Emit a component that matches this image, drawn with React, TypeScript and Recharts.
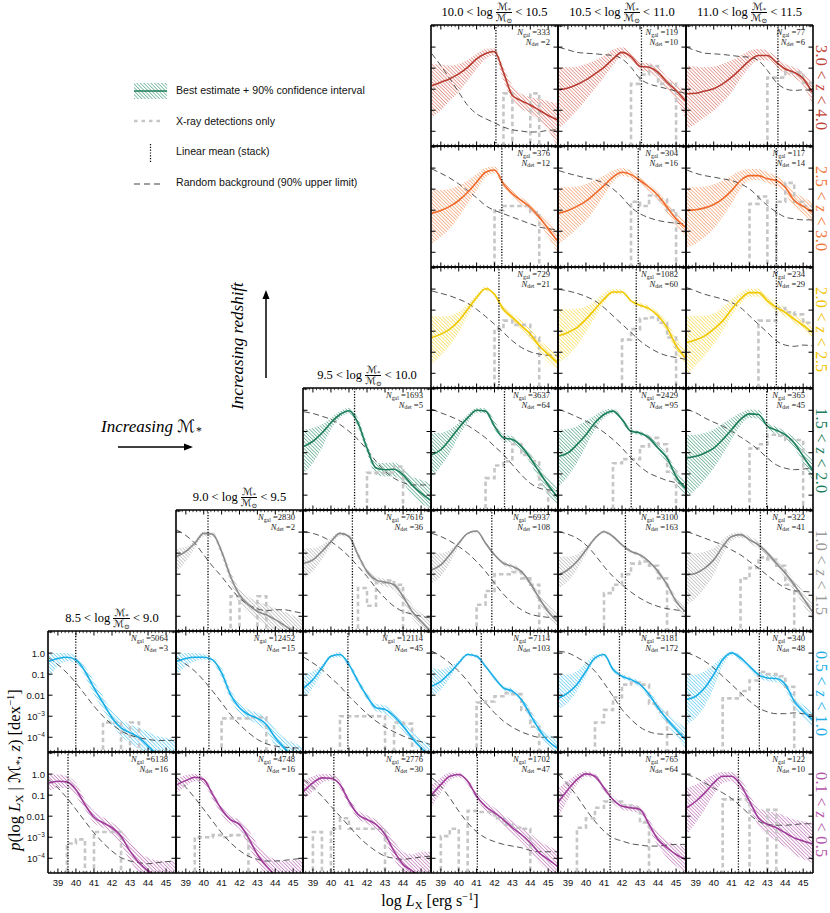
import React from "react";
import { ComposedChart, Area, Line, XAxis, YAxis, ReferenceLine } from "recharts";

const SERIF = '"Liberation Serif", "DejaVu Serif", "DejaVu Sans", serif';
const SANS = '"Liberation Sans", "DejaVu Sans", sans-serif';
const _ = null;

// sample grid in log L_X, also the histogram bin edges
const LX = [38.5, 39, 39.5, 40, 40.5, 41, 41.5, 42, 42.5, 43, 43.5, 44, 44.5, 45, 45.5];
const X_MAJOR = [39, 40, 41, 42, 43, 44, 45];
const Y_TICKS = [1e-4, 1e-3, 1e-2, 0.1, 1, 10];
const Y_TICK_BASE = ["10", "10", "0.01", "0.1", "1.0", ""];
const Y_TICK_EXP = ["\u22124", "\u22123", "", "", "", ""];
const MASS_BINS = [["8.5", "9.0"], ["9.0", "9.5"], ["9.5", "10.0"], ["10.0", "10.5"], ["10.5", "11.0"], ["11.0", "11.5"]];
const Z_BINS = [["3.0", "4.0"], ["2.5", "3.0"], ["2.0", "2.5"], ["1.5", "2.0"], ["1.0", "1.5"], ["0.5", "1.0"], ["0.1", "0.5"]];
const ROW_LINE = ["#b83c32", "#f06a2a", "#f0c800", "#1b7d5a", "#8a8a8a", "#19aee8", "#9e3b98"];
const ROW_HATCH = ["#d65a4a", "#f4823f", "#f5d21e", "#2a9069", "#a4a4a4", "#35bcee", "#b052a9"];
const ROW_TEXT = ["#c0443a", "#f07838", "#f0c400", "#1b7d5a", "#9a9a9a", "#22aee6", "#b456aa"];

// all values are log10 p(log Lx)
// 3.0 < z < 4.0
const r0c3Mid = [-1.83, -1.67, -1.5, -1.27, -0.96, -0.56, -0.3, -0.21, -1.2, -2.3, -2.55, -2.75, -3.0, -3.25, -3.45];
const r0c3Lo = [-3.33, -3.0, -2.54, -2.14, -1.59, -1.04, -0.56, -0.4, -1.6, -2.54, -2.93, -3.17, -3.5, -3.96, -4.67];
const r0c3Hi = [-0.8, -0.83, -0.88, -0.8, -0.61, -0.32, -0.09, -0.06, -0.96, -1.83, -2.22, -2.38, -2.46, -2.57, -2.69];
const r0c3Bg = [-0.32, -0.88, -1.5, -2.14, -2.77, -3.17, -3.4, -3.6, -3.8, -3.93, -3.99, -4.04, -4.02, -3.96, -3.93];
const r0c3Hist = [_, _, _, _, _, _, _, _, -2.2, _, _, -2.2, _, _];

const r0c4Mid = [-2.03, -1.94, -1.78, -1.56, -1.27, -0.96, -0.56, -0.25, -0.45, -0.91, -0.96, -1.2, -1.67, -2.06, -2.54];
const r0c4Lo = [-3.88, -3.48, -3.01, -2.5, -1.98, -1.43, -0.88, -0.45, -0.64, -1.11, -1.2, -1.5, -1.98, -2.54, -3.33];
const r0c4Hi = [-0.96, -0.96, -0.93, -0.8, -0.64, -0.4, -0.13, -0.01, -0.25, -0.72, -0.77, -0.96, -1.43, -1.75, -2.06];
const r0c4Bg = [-0.01, -0.13, -0.25, -0.29, -0.32, -0.36, -0.4, -0.56, -0.96, -1.5, -1.75, -1.87, -1.98, -2.09, -2.19];
const r0c4Hist = [_, _, _, _, _, _, _, _, -1.75, -1.3, -0.9, -1.75, -1.75, _];

const r0c5Mid = [-2.22, -2.19, -2.09, -1.98, -1.75, -1.43, -1.04, -0.64, -0.4, -0.4, -0.72, -1.04, -1.2, -1.5, -2.14];
const r0c5Lo = [-3.88, -3.64, -3.33, -3.01, -2.62, -2.14, -1.5, -0.96, -0.64, -0.64, -0.96, -1.24, -1.46, -1.83, -2.69];
const r0c5Hi = [-0.88, -0.93, -0.96, -0.93, -0.8, -0.64, -0.4, -0.17, -0.09, -0.17, -0.48, -0.8, -0.96, -1.2, -1.67];
const r0c5Bg = [-0.01, -0.17, -0.29, -0.32, -0.35, -0.4, -0.45, -0.48, -0.64, -1.11, -1.67, -1.98, -2.06, -2.03, -2.09];
const r0c5Hist = [_, _, _, _, _, _, _, _, _, -1.45, -1.45, -1.2, -1.2, -1.7];

// 2.5 < z < 3.0
const r1c3Mid = [-2.14, -2.01, -1.82, -1.54, -1.15, -0.67, -0.2, -0.09, -0.75, -1.22, -1.54, -1.86, -2.33, -2.88, -3.44];
const r1c3Lo = [-3.59, -3.28, -2.88, -2.33, -1.7, -1.07, -0.43, -0.25, -0.91, -1.41, -1.73, -2.09, -2.57, -3.28, -3.99];
const r1c3Hi = [-0.99, -1.04, -0.99, -0.83, -0.59, -0.28, 0.01, 0.07, -0.59, -1.07, -1.38, -1.67, -2.09, -2.49, -2.96];
const r1c3Bg = [-0.04, -0.25, -0.47, -0.75, -1.07, -1.41, -1.78, -2.01, -2.17, -2.33, -2.49, -2.65, -2.8, -2.88, -2.93];
const r1c3Hist = [_, _, _, _, _, _, _, -2.0, -1.8, -1.8, -1.8, -2.1, _, _];

const r1c4Mid = [-2.14, -2.01, -1.82, -1.57, -1.22, -0.83, -0.43, -0.2, -0.31, -0.59, -0.91, -1.3, -1.86, -2.41, -2.8];
const r1c4Lo = [-3.59, -3.28, -2.88, -2.49, -1.94, -1.3, -0.67, -0.36, -0.47, -0.75, -1.1, -1.54, -2.14, -2.73, -3.28];
const r1c4Hi = [-0.91, -0.91, -0.88, -0.75, -0.56, -0.36, -0.12, 0.01, -0.12, -0.43, -0.75, -1.15, -1.62, -2.09, -2.49];
const r1c4Bg = [-0.12, -0.25, -0.36, -0.47, -0.56, -0.72, -0.99, -1.38, -1.86, -2.17, -2.36, -2.49, -2.57, -2.62, -2.65];
const r1c4Hist = [_, _, _, _, _, _, _, _, -1.6, -1.8, -1.3, -1.5, -2.0, _];

const r1c5Mid = [-2.01, -1.98, -1.89, -1.73, -1.46, -1.07, -0.59, -0.36, -0.36, -0.51, -0.59, -0.91, -1.54, -1.82, -2.09];
const r1c5Lo = [-3.75, -3.59, -3.28, -2.88, -2.33, -1.7, -0.99, -0.59, -0.56, -0.72, -0.88, -1.22, -1.86, -2.17, -2.57];
const r1c5Hi = [-0.91, -0.91, -0.88, -0.78, -0.59, -0.36, -0.12, -0.04, -0.04, -0.2, -0.36, -0.67, -1.15, -1.38, -1.62];
const r1c5Bg = [-0.09, -0.25, -0.36, -0.43, -0.51, -0.59, -0.75, -0.99, -1.38, -1.78, -2.09, -2.33, -2.41, -2.46, -2.46];
const r1c5Hist = [_, _, _, _, _, _, _, -1.7, -1.35, _, -1.6, -0.7, -1.6, -1.8];

// 2.0 < z < 2.5
const r2c3Mid = [-2.3, -2.14, -1.9, -1.51, -0.96, -0.4, 0.02, -0.25, -0.96, -1.35, -1.75, -2.14, -2.69, -3.09, -3.48];
const r2c3Lo = [-3.56, -3.17, -2.69, -2.06, -1.27, -0.56, -0.09, -0.36, -1.11, -1.51, -1.93, -2.38, -2.93, -3.48, -3.8];
const r2c3Hi = [-1.27, -1.3, -1.27, -1.08, -0.72, -0.25, 0.12, -0.14, -0.77, -1.15, -1.51, -1.9, -2.41, -2.77, -3.09];
const r2c3Bg = [-0.09, -0.2, -0.32, -0.48, -0.67, -0.96, -1.3, -1.67, -2.06, -2.46, -2.77, -2.98, -3.09, -3.14, -3.14];
const r2c3Hist = [_, _, _, _, _, _, _, -1.9, -1.5, -1.7, -1.7, -2.3, _, _];

const r2c4Mid = [-2.22, -2.06, -1.83, -1.43, -0.96, -0.48, -0.14, -0.14, -0.56, -0.77, -0.93, -1.27, -1.83, -2.69, -3.25];
const r2c4Lo = [-3.48, -3.17, -2.69, -2.06, -1.35, -0.67, -0.25, -0.27, -0.67, -0.88, -1.04, -1.43, -2.06, -3.01, -3.56];
const r2c4Hi = [-0.96, -0.96, -0.93, -0.83, -0.56, -0.2, 0.02, -0.01, -0.45, -0.64, -0.8, -1.11, -1.59, -2.3, -2.85];
const r2c4Bg = [-0.01, -0.09, -0.2, -0.35, -0.56, -0.88, -1.27, -1.67, -2.06, -2.46, -2.77, -3.01, -3.17, -3.25, -3.33];
const r2c4Hist = [_, _, _, _, _, _, _, -2.4, -1.9, -1.4, -1.35, -1.6, -2.3, _];

const r2c5Mid = [-2.54, -2.41, -2.22, -1.9, -1.51, -0.96, -0.48, -0.17, -0.17, -0.56, -0.88, -1.11, -1.43, -1.72, -2.06];
const r2c5Lo = [-4.04, -3.64, -3.17, -2.62, -1.98, -1.27, -0.72, -0.36, -0.36, -0.77, -1.04, -1.3, -1.62, -1.9, -2.3];
const r2c5Hi = [-1.27, -1.27, -1.27, -1.15, -0.88, -0.48, -0.17, 0.02, 0.02, -0.32, -0.67, -0.88, -1.19, -1.43, -1.75];
const r2c5Bg = [0.07, -0.09, -0.25, -0.36, -0.48, -0.64, -0.88, -1.27, -1.67, -2.06, -2.46, -2.66, -2.72, -2.66, -2.69];
const r2c5Hist = [_, _, _, _, _, _, _, _, -1.5, -1.5, -0.9, -1.1, -1.2, -1.6];

// 1.5 < z < 2.0
const r3c2Mid = [-1.7, -1.46, -1.07, -0.59, -0.2, -0.02, -0.59, -1.78, -2.72, -2.8, -2.78, -3.04, -3.52, -3.91, -4.23];
const r3c2Lo = [-2.96, -2.49, -1.78, -0.91, -0.36, -0.15, -0.83, -2.01, -3.04, -3.12, -3.12, -3.44, -3.99, -4.38, -4.62];
const r3c2Hi = [-0.91, -0.83, -0.67, -0.36, -0.04, 0.12, -0.36, -1.54, -2.49, -2.49, -2.46, -2.73, -3.12, -3.28, -3.44];
const r3c2Bg = [-0.07, -0.15, -0.28, -0.43, -0.67, -0.99, -1.38, -1.86, -2.41, -2.88, -3.2, -3.41, -3.52, -3.52, -3.52];
const r3c2Hist = [_, _, _, _, _, _, _, -2.95, -2.95, -2.95, -2.65, _, _, _];

const r3c3Mid = [-2.09, -1.86, -1.38, -0.83, -0.36, 0.0, -0.04, -0.75, -1.3, -1.38, -1.7, -2.25, -2.9, -3.52, -4.07];
const r3c3Lo = [-3.12, -2.65, -2.01, -1.22, -0.59, -0.12, -0.15, -0.91, -1.46, -1.54, -1.89, -2.49, -3.28, -3.99, -4.46];
const r3c3Hi = [-1.07, -1.07, -0.91, -0.59, -0.2, 0.12, 0.09, -0.48, -1.15, -1.22, -1.54, -2.04, -2.65, -3.2, -3.59];
const r3c3Bg = [0.04, -0.12, -0.28, -0.47, -0.72, -0.99, -1.3, -1.7, -2.09, -2.57, -3.04, -3.44, -3.67, -3.75, -3.78];
const r3c3Hist = [_, _, _, _, _, _, -3.2, -2.6, -2.4, -1.6, -2.1, -2.4, -3.5, _];

const r3c4Mid = [-2.17, -2.01, -1.62, -1.15, -0.59, -0.2, -0.04, -0.43, -0.99, -1.07, -1.3, -1.78, -2.25, -3.12, -3.67];
const r3c4Lo = [-3.59, -3.12, -2.49, -1.7, -0.91, -0.36, -0.15, -0.56, -1.1, -1.18, -1.41, -1.94, -2.49, -3.44, -4.07];
const r3c4Hi = [-0.91, -0.88, -0.75, -0.51, -0.23, 0.01, 0.07, -0.31, -0.88, -0.99, -1.19, -1.62, -2.09, -2.8, -3.36];
const r3c4Bg = [0.04, -0.12, -0.31, -0.51, -0.75, -1.04, -1.38, -1.78, -2.25, -2.65, -2.96, -3.15, -3.31, -3.41, -3.47];
const r3c4Hist = [_, _, _, _, _, _, -2.5, -2.3, -2.3, -1.7, -1.3, -1.6, -2.9, _];

const r3c5Mid = [-2.25, -2.17, -2.01, -1.78, -1.38, -0.91, -0.43, -0.17, -0.2, -0.75, -0.94, -1.15, -1.54, -2.17, -2.8];
const r3c5Lo = [-4.07, -3.75, -3.28, -2.73, -2.09, -1.38, -0.72, -0.36, -0.4, -0.91, -1.12, -1.35, -1.78, -2.49, -3.28];
const r3c5Hi = [-1.15, -1.15, -1.07, -0.91, -0.62, -0.36, -0.12, 0.04, 0.01, -0.59, -0.78, -0.99, -1.3, -1.78, -2.25];
const r3c5Bg = [0.04, -0.12, -0.36, -0.56, -0.75, -0.99, -1.26, -1.54, -1.86, -2.25, -2.57, -2.73, -2.8, -2.77, -2.73];
const r3c5Hist = [_, _, _, _, _, _, _, -1.8, -1.6, -1.15, -1.2, -1.4, -1.4, _];

// 1.0 < z < 1.5
const r4c1Mid = [-1.16, -0.92, -0.53, -0.06, -0.1, -0.92, -2.11, -2.98, -3.45, -3.77, -3.93, -4.16, -4.43, -4.7, -4.95];
const r4c1Lo = [-1.87, -1.4, -0.77, -0.21, -0.26, -1.16, -2.43, -3.37, -3.85, -4.16, -4.48, -4.8, -5.0, -5.2, -5.3];
const r4c1Hi = [-0.77, -0.69, -0.42, 0.03, 0.0, -0.77, -1.87, -2.66, -3.06, -3.29, -3.45, -3.61, -3.77, -3.96, -4.16];
const r4c1Bg = [0.1, -0.16, -0.53, -1.08, -1.63, -2.11, -2.66, -3.14, -3.45, -3.64, -3.74, -3.69, -3.69, -3.77, -3.85];
const r4c1Hist = [_, _, _, _, _, _, -3.05, _, _, -3.05, _, _, _, _];

const r4c2Mid = [-1.48, -1.32, -0.92, -0.45, -0.06, -0.21, -1.08, -1.87, -2.27, -2.38, -2.5, -3.06, -3.77, -4.24, -4.7];
const r4c2Lo = [-2.19, -1.87, -1.32, -0.64, -0.17, -0.32, -1.24, -2.03, -2.43, -2.58, -2.74, -3.32, -4.08, -4.55, -4.95];
const r4c2Hi = [-0.77, -0.77, -0.61, -0.29, 0.02, -0.1, -0.92, -1.71, -2.11, -2.22, -2.35, -2.85, -3.45, -3.85, -4.16];
const r4c2Bg = [0.02, -0.06, -0.21, -0.45, -0.77, -1.16, -1.63, -2.11, -2.66, -3.14, -3.53, -3.77, -3.9, -4.0, -4.08];
const r4c2Hist = [_, _, _, _, _, _, -2.66, -3.5, -2.4, -2.3, -2.5, _, _, _];

const r4c3Mid = [-1.79, -1.56, -1.08, -0.53, -0.06, 0.05, -0.53, -1.08, -1.48, -1.63, -1.87, -2.43, -3.14, -3.77, -4.24];
const r4c3Lo = [-2.43, -2.11, -1.48, -0.69, -0.13, -0.06, -0.61, -1.19, -1.59, -1.76, -2.0, -2.58, -3.37, -4.05, -4.55];
const r4c3Hi = [-1.0, -1.0, -0.85, -0.45, -0.01, 0.1, -0.45, -1.0, -1.37, -1.52, -1.75, -2.27, -2.9, -3.45, -3.85];
const r4c3Bg = [-0.06, -0.21, -0.42, -0.69, -1.0, -1.4, -1.87, -2.43, -2.95, -3.37, -3.69, -3.9, -4.0, -4.05, -4.08];
const r4c3Hist = [_, _, _, _, _, -3.45, -2.8, -2.0, -2.0, -1.9, -2.2, -2.5, _, _];

const r4c4Mid = [-2.03, -1.79, -1.4, -0.85, -0.29, 0.02, -0.21, -0.61, -0.92, -1.08, -1.4, -1.87, -2.5, -3.29, -3.77];
const r4c4Lo = [-2.66, -2.35, -1.79, -1.05, -0.37, -0.06, -0.29, -0.69, -1.0, -1.18, -1.52, -2.03, -2.66, -3.53, -4.08];
const r4c4Hi = [-1.16, -1.16, -1.05, -0.69, -0.21, 0.1, -0.13, -0.53, -0.85, -1.0, -1.29, -1.75, -2.35, -3.06, -3.45];
const r4c4Bg = [0.02, -0.1, -0.29, -0.61, -1.08, -1.63, -2.11, -2.5, -2.85, -3.14, -3.37, -3.53, -3.64, -3.7, -3.77];
const r4c4Hist = [_, _, _, _, _, -2.9, -2.5, -2.0, -1.5, -1.4, -1.6, -2.2, _, _];

const r4c5Mid = [-2.03, -1.95, -1.71, -1.32, -0.69, -0.21, -0.12, -0.37, -0.61, -1.0, -1.48, -1.95, -2.5, -3.14, -3.77];
const r4c5Lo = [-3.45, -3.14, -2.66, -2.03, -1.08, -0.42, -0.26, -0.53, -0.8, -1.16, -1.63, -2.19, -2.79, -3.45, -4.16];
const r4c5Hi = [-1.0, -1.0, -0.92, -0.74, -0.37, -0.06, -0.01, -0.21, -0.45, -0.85, -1.32, -1.75, -2.27, -2.82, -3.29];
const r4c5Bg = [0.02, -0.13, -0.29, -0.45, -0.61, -0.85, -1.08, -1.4, -1.71, -2.06, -2.38, -2.66, -2.79, -2.82, -2.85];
const r4c5Hist = [_, _, _, _, _, _, -2.2, -1.7, -1.2, -1.3, -1.6, -2.5, _, _];

// 0.5 < z < 1.0
const r5c0Mid = [-0.39, -0.26, -0.2, -0.32, -0.86, -1.65, -2.36, -3.07, -3.55, -3.78, -4.02, -4.42, -4.81, -5.1, -5.4];
const r5c0Lo = [-1.18, -0.63, -0.39, -0.47, -1.1, -1.97, -2.68, -3.39, -3.94, -4.26, -4.57, -4.9, -5.1, -5.3, -5.5];
const r5c0Hi = [0.0, 0.0, 0.0, -0.15, -0.63, -1.34, -2.05, -2.76, -3.15, -3.39, -3.55, -3.74, -3.94, -4.02, -4.1];
const r5c0Bg = [-0.23, -0.55, -0.94, -1.42, -1.97, -2.52, -3.0, -3.39, -3.7, -3.9, -4.02, -4.1, -4.15, -4.15, -4.15];
const r5c0Hist = [_, _, _, _, _, _, -3.3, -3.3, _, -3.3, _, _, _, _];

const r5c1Mid = [-0.39, -0.26, -0.2, -0.2, -0.32, -0.94, -1.97, -2.6, -2.92, -3.1, -3.39, -4.02, -4.5, -4.95, -5.4];
const r5c1Lo = [-1.02, -0.63, -0.39, -0.32, -0.47, -1.18, -2.2, -2.84, -3.15, -3.39, -3.7, -4.42, -4.9, -5.3, -5.6];
const r5c1Hi = [-0.04, 0.0, 0.0, -0.04, -0.2, -0.7, -1.73, -2.36, -2.68, -2.84, -3.07, -3.62, -4.02, -4.26, -4.42];
const r5c1Bg = [-0.23, -0.52, -0.86, -1.3, -1.81, -2.36, -2.92, -3.39, -3.78, -4.1, -4.31, -4.42, -4.47, -4.5, -4.52];
const r5c1Hist = [_, _, _, _, _, -3.1, -3.1, -3.1, -3.05, -3.05, _, _, _, _];

const r5c2Mid = [-1.65, -1.26, -0.7, -0.15, -0.07, -0.55, -1.34, -2.05, -2.6, -2.68, -2.99, -3.47, -4.02, -4.5, -4.9];
const r5c2Lo = [-2.13, -1.65, -0.94, -0.26, -0.2, -0.7, -1.49, -2.2, -2.76, -2.88, -3.23, -3.7, -4.26, -4.65, -5.0];
const r5c2Hi = [-1.02, -0.86, -0.55, -0.07, 0.05, -0.39, -1.18, -1.89, -2.41, -2.49, -2.76, -3.23, -3.7, -4.1, -4.34];
const r5c2Bg = [-0.2, -0.47, -0.78, -1.18, -1.57, -2.05, -2.47, -2.88, -3.23, -3.52, -3.74, -3.94, -4.1, -4.21, -4.34];
const r5c2Hist = [_, _, _, _, -3.0, -3.0, -3.0, -3.0, -3.0, _, -3.3, -3.35, _, _];

const r5c3Mid = [-1.57, -1.34, -0.94, -0.47, -0.07, -0.15, -0.63, -1.18, -1.65, -1.81, -2.2, -2.92, -3.63, -4.18, -4.5];
const r5c3Lo = [-2.05, -1.73, -1.18, -0.58, -0.15, -0.23, -0.7, -1.26, -1.76, -1.94, -2.36, -3.15, -3.86, -4.42, -4.8];
const r5c3Hi = [-0.7, -0.78, -0.63, -0.36, 0.01, -0.07, -0.55, -1.1, -1.57, -1.68, -2.05, -2.68, -3.39, -3.86, -4.02];
const r5c3Bg = [0.09, -0.15, -0.47, -0.86, -1.34, -1.89, -2.36, -2.84, -3.23, -3.52, -3.74, -3.9, -4.0, -4.0, -3.96];
const r5c3Hist = [_, _, _, _, _, -2.35, -2.3, -2.05, -1.9, -1.95, -2.7, -3.5, _, _];

const r5c4Mid = [-2.13, -1.89, -1.49, -0.86, -0.23, -0.07, -0.78, -1.1, -1.26, -1.49, -1.97, -2.6, -3.15, -3.63, -4.1];
const r5c4Lo = [-2.68, -2.36, -1.81, -1.1, -0.36, -0.2, -0.86, -1.21, -1.37, -1.62, -2.13, -2.79, -3.39, -3.94, -4.5];
const r5c4Hi = [-1.02, -1.02, -0.86, -0.47, -0.07, 0.01, -0.67, -0.99, -1.15, -1.37, -1.81, -2.36, -2.84, -3.23, -3.55];
const r5c4Bg = [0.09, 0.01, -0.2, -0.47, -0.86, -1.42, -2.05, -2.68, -3.15, -3.52, -3.74, -3.84, -3.86, -3.86, -3.84];
const r5c4Hist = [_, _, _, _, -3.3, -2.7, -2.1, -1.5, -1.4, -1.5, -2.4, -2.8, _, _];

const r5c5Mid = [-2.2, -2.05, -1.65, -1.02, -0.31, 0.01, -0.23, -0.63, -1.02, -1.18, -1.21, -1.49, -2.28, -2.76, -3.15];
const r5c5Lo = [-3.39, -3.07, -2.52, -1.65, -0.63, -0.1, -0.36, -0.74, -1.18, -1.34, -1.39, -1.73, -2.6, -3.07, -3.55];
const r5c5Hi = [-1.02, -1.02, -0.86, -0.55, -0.15, 0.09, -0.1, -0.52, -0.86, -1.02, -1.05, -1.3, -2.05, -2.47, -2.76];
const r5c5Bg = [0.01, -0.15, -0.39, -0.7, -1.1, -1.49, -1.89, -2.28, -2.6, -2.79, -2.88, -2.88, -2.84, -2.88, -2.94];
const r5c5Hist = [_, _, _, _, -2.15, -2.15, -1.8, -1.3, -0.9, -1.0, -1.1, -1.6, _, _];

// 0.1 < z < 0.5
const r6c0Mid = [-0.42, -0.34, -0.37, -0.74, -1.45, -2.05, -2.31, -2.55, -2.95, -3.66, -4.21, -4.6, -4.9, -5.2, -5.5];
const r6c0Lo = [-0.81, -0.66, -0.66, -1.05, -1.68, -2.31, -2.55, -2.84, -3.34, -4.13, -4.68, -5.0, -5.3, -5.6, -5.9];
const r6c0Hi = [-0.02, -0.02, -0.1, -0.42, -1.21, -1.76, -2.05, -2.31, -2.63, -3.18, -3.69, -3.97, -4.1, -4.13, -4.13];
const r6c0Bg = [-0.26, -0.66, -1.13, -1.68, -2.24, -2.79, -3.26, -3.66, -3.97, -4.13, -4.21, -4.26, -4.21, -4.16, -4.13];
const r6c0Hist = [_, _, -3.3, -3.1, _, -2.75, -2.75, -2.75, _, _, _, _, _, _];

const r6c1Mid = [-0.5, -0.31, -0.15, -0.26, -0.97, -1.68, -2.16, -2.39, -3.03, -3.82, -4.37, -4.8, -5.1, -5.4, -5.7];
const r6c1Lo = [-0.89, -0.58, -0.34, -0.47, -1.21, -1.92, -2.36, -2.63, -3.42, -4.21, -4.8, -5.2, -5.5, -5.8, -6.0];
const r6c1Hi = [-0.18, -0.05, 0.0, -0.1, -0.81, -1.53, -2.0, -2.16, -2.63, -3.34, -3.82, -4.05, -4.13, -4.1, -4.05];
const r6c1Bg = [-0.18, -0.63, -1.13, -1.68, -2.24, -2.79, -3.26, -3.63, -3.9, -4.05, -4.13, -4.13, -4.1, -4.05, -4.0];
const r6c1Hist = [_, _, -3.0, -3.0, -2.9, -3.0, -2.9, -2.9, _, _, _, _, _, _];

const r6c2Mid = [-0.81, -0.42, -0.18, -0.2, -0.5, -1.29, -1.92, -2.16, -2.39, -2.87, -3.66, -4.29, -4.6, -4.9, -5.2];
const r6c2Lo = [-1.21, -0.81, -0.42, -0.31, -0.69, -1.48, -2.11, -2.36, -2.63, -3.18, -4.05, -4.68, -5.0, -5.3, -5.6];
const r6c2Hi = [-0.34, -0.1, 0.0, 0.0, -0.31, -1.13, -1.73, -1.95, -2.16, -2.55, -3.18, -3.69, -3.82, -3.69, -3.69];
const r6c2Bg = [-0.26, -0.63, -1.05, -1.53, -2.0, -2.47, -2.95, -3.34, -3.66, -3.9, -4.0, -4.05, -4.0, -3.94, -3.9];
const r6c2Hist = [_, -2.75, _, -2.6, -2.1, -2.6, -2.6, -2.6, -2.6, _, _, _, _, _];

const r6c3Mid = [-0.97, -0.5, -0.1, -0.02, -0.34, -1.05, -1.53, -1.84, -2.16, -2.55, -2.87, -3.26, -3.74, -4.05, -4.37];
const r6c3Lo = [-1.53, -0.89, -0.31, -0.15, -0.5, -1.21, -1.73, -2.08, -2.43, -2.84, -3.23, -3.69, -4.21, -4.6, -4.85];
const r6c3Hi = [-0.5, -0.18, 0.07, 0.07, -0.23, -0.89, -1.32, -1.6, -1.92, -2.24, -2.52, -2.84, -3.18, -3.42, -3.63];
const r6c3Bg = [-0.18, -0.58, -1.13, -1.76, -2.31, -2.74, -3.03, -3.21, -3.34, -3.42, -3.5, -3.63, -3.69, -3.69, -3.69];
const r6c3Hist = [_, -2.95, -2.6, _, -1.75, -1.8, -1.8, -2.1, -2.4, -2.55, -2.6, _, _, _];

const r6c4Mid = [-1.29, -0.74, -0.26, 0.01, -0.1, -0.66, -1.21, -1.53, -1.6, -1.68, -2.39, -3.11, -3.5, -3.82, -4.05];
const r6c4Lo = [-2.0, -1.21, -0.5, -0.12, -0.26, -0.81, -1.37, -1.68, -1.76, -1.88, -2.63, -3.42, -3.97, -4.37, -4.68];
const r6c4Hi = [-0.66, -0.31, -0.02, 0.13, 0.01, -0.53, -1.05, -1.37, -1.45, -1.53, -2.16, -2.79, -3.18, -3.34, -3.42];
const r6c4Bg = [-0.02, -0.5, -1.05, -1.68, -2.24, -2.71, -3.03, -3.18, -3.31, -3.37, -3.42, -3.42, -3.37, -3.34, -3.34];
const r6c4Hist = [_, _, -2.55, -2.1, -1.6, -1.3, -1.3, -1.5, -1.6, -2.3, _, _, _, _];

const r6c5Mid = [-1.6, -1.29, -0.89, -0.42, -0.1, -0.1, -0.5, -1.29, -2.08, -2.39, -2.55, -2.79, -3.03, -3.18, -3.31];
const r6c5Lo = [-2.87, -2.31, -1.68, -0.97, -0.42, -0.34, -0.81, -1.6, -2.47, -2.9, -3.18, -3.47, -3.82, -4.05, -4.21];
const r6c5Hi = [-0.66, -0.5, -0.26, -0.02, 0.1, 0.1, -0.18, -0.97, -1.6, -1.76, -1.84, -2.0, -2.16, -2.24, -2.31];
const r6c5Bg = [-0.02, -0.18, -0.42, -0.66, -0.89, -1.16, -1.53, -1.92, -2.24, -2.39, -2.43, -2.43, -2.4, -2.36, -2.36];
const r6c5Hist = [_, _, _, _, -1.2, -1.2, -1.2, _, _, -1.7, _, _, _, _];

const PANELS = [
  { row: 0, col: 3, nGal: 333, nDet: 2, mean: 42.08, mid: r0c3Mid, lo: r0c3Lo, hi: r0c3Hi, bg: r0c3Bg, hist: r0c3Hist },
  { row: 0, col: 4, nGal: 119, nDet: 10, mean: 43.08, mid: r0c4Mid, lo: r0c4Lo, hi: r0c4Hi, bg: r0c4Bg, hist: r0c4Hist },
  { row: 0, col: 5, nGal: 77, nDet: 6, mean: 43.59, mid: r0c5Mid, lo: r0c5Lo, hi: r0c5Hi, bg: r0c5Bg, hist: r0c5Hist },
  { row: 1, col: 3, nGal: 376, nDet: 12, mean: 42.41, mid: r1c3Mid, lo: r1c3Lo, hi: r1c3Hi, bg: r1c3Bg, hist: r1c3Hist },
  { row: 1, col: 4, nGal: 304, nDet: 16, mean: 42.9, mid: r1c4Mid, lo: r1c4Lo, hi: r1c4Hi, bg: r1c4Bg, hist: r1c4Hist },
  { row: 1, col: 5, nGal: 117, nDet: 14, mean: 43.5, mid: r1c5Mid, lo: r1c5Lo, hi: r1c5Hi, bg: r1c5Bg, hist: r1c5Hist },
  { row: 2, col: 3, nGal: 729, nDet: 21, mean: 42.25, mid: r2c3Mid, lo: r2c3Lo, hi: r2c3Hi, bg: r2c3Bg, hist: r2c3Hist },
  { row: 2, col: 4, nGal: 1082, nDet: 60, mean: 42.79, mid: r2c4Mid, lo: r2c4Lo, hi: r2c4Hi, bg: r2c4Bg, hist: r2c4Hist },
  { row: 2, col: 5, nGal: 234, nDet: 29, mean: 43.5, mid: r2c5Mid, lo: r2c5Lo, hi: r2c5Hi, bg: r2c5Bg, hist: r2c5Hist },
  { row: 3, col: 2, nGal: 1693, nDet: 5, mean: 41.31, mid: r3c2Mid, lo: r3c2Lo, hi: r3c2Hi, bg: r3c2Bg, hist: r3c2Hist },
  { row: 3, col: 3, nGal: 3637, nDet: 64, mean: 42.56, mid: r3c3Mid, lo: r3c3Lo, hi: r3c3Hi, bg: r3c3Bg, hist: r3c3Hist },
  { row: 3, col: 4, nGal: 2429, nDet: 95, mean: 42.51, mid: r3c4Mid, lo: r3c4Lo, hi: r3c4Hi, bg: r3c4Bg, hist: r3c4Hist },
  { row: 3, col: 5, nGal: 365, nDet: 45, mean: 42.96, mid: r3c5Mid, lo: r3c5Lo, hi: r3c5Hi, bg: r3c5Bg, hist: r3c5Hist },
  { row: 4, col: 1, nGal: 2830, nDet: 2, mean: 40.24, mid: r4c1Mid, lo: r4c1Lo, hi: r4c1Hi, bg: r4c1Bg, hist: r4c1Hist },
  { row: 4, col: 2, nGal: 7616, nDet: 36, mean: 41.19, mid: r4c2Mid, lo: r4c2Lo, hi: r4c2Hi, bg: r4c2Bg, hist: r4c2Hist },
  { row: 4, col: 3, nGal: 6937, nDet: 108, mean: 41.85, mid: r4c3Mid, lo: r4c3Lo, hi: r4c3Hi, bg: r4c3Bg, hist: r4c3Hist },
  { row: 4, col: 4, nGal: 3100, nDet: 163, mean: 42.19, mid: r4c4Mid, lo: r4c4Lo, hi: r4c4Hi, bg: r4c4Bg, hist: r4c4Hist },
  { row: 4, col: 5, nGal: 322, nDet: 41, mean: 42.61, mid: r4c5Mid, lo: r4c5Lo, hi: r4c5Hi, bg: r4c5Bg, hist: r4c5Hist },
  { row: 5, col: 0, nGal: 5064, nDet: 3, mean: 39.99, mid: r5c0Mid, lo: r5c0Lo, hi: r5c0Hi, bg: r5c0Bg, hist: r5c0Hist },
  { row: 5, col: 1, nGal: 12452, nDet: 15, mean: 40.29, mid: r5c1Mid, lo: r5c1Lo, hi: r5c1Hi, bg: r5c1Bg, hist: r5c1Hist },
  { row: 5, col: 2, nGal: 12114, nDet: 45, mean: 40.94, mid: r5c2Mid, lo: r5c2Lo, hi: r5c2Hi, bg: r5c2Bg, hist: r5c2Hist },
  { row: 5, col: 3, nGal: 7114, nDet: 103, mean: 41.26, mid: r5c3Mid, lo: r5c3Lo, hi: r5c3Hi, bg: r5c3Bg, hist: r5c3Hist },
  { row: 5, col: 4, nGal: 3181, nDet: 172, mean: 41.86, mid: r5c4Mid, lo: r5c4Lo, hi: r5c4Hi, bg: r5c4Bg, hist: r5c4Hist },
  { row: 5, col: 5, nGal: 340, nDet: 48, mean: 42.55, mid: r5c5Mid, lo: r5c5Lo, hi: r5c5Hi, bg: r5c5Bg, hist: r5c5Hist },
  { row: 6, col: 0, nGal: 6138, nDet: 16, mean: 39.56, mid: r6c0Mid, lo: r6c0Lo, hi: r6c0Hi, bg: r6c0Bg, hist: r6c0Hist },
  { row: 6, col: 1, nGal: 4748, nDet: 16, mean: 39.77, mid: r6c1Mid, lo: r6c1Lo, hi: r6c1Hi, bg: r6c1Bg, hist: r6c1Hist },
  { row: 6, col: 2, nGal: 2776, nDet: 30, mean: 40.16, mid: r6c2Mid, lo: r6c2Lo, hi: r6c2Hi, bg: r6c2Bg, hist: r6c2Hist },
  { row: 6, col: 3, nGal: 1702, nDet: 47, mean: 41.04, mid: r6c3Mid, lo: r6c3Lo, hi: r6c3Hi, bg: r6c3Bg, hist: r6c3Hist },
  { row: 6, col: 4, nGal: 765, nDet: 64, mean: 41.34, mid: r6c4Mid, lo: r6c4Lo, hi: r6c4Hi, bg: r6c4Bg, hist: r6c4Hist },
  { row: 6, col: 5, nGal: 122, nDet: 10, mean: 41.38, mid: r6c5Mid, lo: r6c5Lo, hi: r6c5Hi, bg: r6c5Bg, hist: r6c5Hist },
];

// layout of the grid
const COL_EDGES = [48, 176, 303, 431, 558, 686, 813];
const ROW_EDGES = [25, 146, 267, 388, 510, 631, 752, 873];
const X_DOMAIN = [38.45, 45.55];
const Y_DOMAIN = [Math.pow(10, -4.7), Math.pow(10, 1.05)];
const X_TICKS: number[] = [];
for (let k = 193; k <= 227; k++) X_TICKS.push(Math.round(k * 2) / 10);

const AXIS_LINE = { stroke: "#000", strokeWidth: 1.6 };
const AX = 1; // thickness reserved by each of the 4 axes

const toRows = (p: any) =>
  LX.map((x, i) => {
    const h = p.hist[Math.min(i, p.hist.length - 1)];
    return {
      x,
      mid: Math.pow(10, p.mid[i]),
      band: [Math.pow(10, p.lo[i]), Math.pow(10, p.hi[i])],
      bg: Math.pow(10, p.bg[i]),
      hist: Math.pow(10, h === null ? -12 : h),
    };
  });

const isMajor = (v: number) => X_MAJOR.some((m) => Math.abs(v - m) < 1e-6);

const XTick = (props: any) => {
  const { x, y, payload, side, showLabel } = props;
  const v = payload.value;
  const major = isMajor(v);
  const len = major ? 4.5 : 2.2;
  const dir = side === "bottom" ? -1 : 1;
  return (
    <g>
      <line x1={x} y1={y} x2={x} y2={y + dir * len} stroke="#000" strokeWidth={major ? 1 : 0.7} />
      {showLabel && major && (
        <text x={x} y={y + 12.5} textAnchor="middle" fontFamily={SANS} fontSize={9.5} fill="#111">
          {Math.round(v)}
        </text>
      )}
    </g>
  );
};

const YTick = (props: any) => {
  const { x, y, payload, side, showLabel } = props;
  const v = payload.value;
  const idx = Y_TICKS.findIndex((t) => Math.abs(Math.log10(t) - Math.log10(v)) < 1e-6);
  const dir = side === "left" ? 1 : -1;
  return (
    <g>
      <line x1={x} y1={y} x2={x + dir * 4.5} y2={y} stroke="#000" strokeWidth={1} />
      {showLabel && idx >= 0 && Y_TICK_BASE[idx] !== "" && (
        <text x={x - 3} y={y + 3.5} textAnchor="end" fontFamily={SANS} fontSize={9.5} fill="#111">
          <tspan>{Y_TICK_BASE[idx]}</tspan>
          {Y_TICK_EXP[idx] !== "" && (
            <tspan dy={-4} fontSize={6.5}>
              {Y_TICK_EXP[idx]}
            </tspan>
          )}
        </text>
      )}
    </g>
  );
};

const Sub = ({ children }: any) => (
  <span style={{ fontSize: "0.68em", position: "relative", top: "0.3em", lineHeight: 0 }}>{children}</span>
);

const Panel = ({ p }: any) => {
  const W = COL_EDGES[p.col + 1] - COL_EDGES[p.col];
  const H = ROW_EDGES[p.row + 1] - ROW_EDGES[p.row];
  const id = `hatch-${p.row}-${p.col}`;
  const data = toRows(p);
  const bottomLabels = p.row === 6;
  const leftLabels = p.col === 0;
  return (
    <div style={{ position: "absolute", left: COL_EDGES[p.col] - AX, top: ROW_EDGES[p.row] - AX, width: W + 2 * AX, height: H + 2 * AX }}>
      <ComposedChart width={W + 2 * AX} height={H + 2 * AX} data={data} margin={{ top: 0, right: 0, bottom: 0, left: 0 }}>
        <defs>
          <pattern id={id} patternUnits="userSpaceOnUse" width={2.5} height={2.5} patternTransform="rotate(-45)">
            <line x1={0} y1={0} x2={0} y2={2.5} stroke={ROW_HATCH[p.row]} strokeWidth={1.1} />
          </pattern>
        </defs>
        <XAxis
          xAxisId="b"
          dataKey="x"
          type="number"
          domain={X_DOMAIN}
          allowDataOverflow
          ticks={X_TICKS}
          interval={0}
          height={AX}
          tickSize={0}
          tickMargin={0}
          tickLine={false}
          axisLine={AXIS_LINE}
          tick={(tp: any) => <XTick {...tp} side="bottom" showLabel={bottomLabels} />}
        />
        <XAxis
          xAxisId="t"
          orientation="top"
          dataKey="x"
          type="number"
          domain={X_DOMAIN}
          allowDataOverflow
          ticks={X_TICKS}
          interval={0}
          height={AX}
          tickSize={0}
          tickMargin={0}
          tickLine={false}
          axisLine={AXIS_LINE}
          tick={(tp: any) => <XTick {...tp} side="top" showLabel={false} />}
        />
        <YAxis
          yAxisId="l"
          type="number"
          scale="log"
          domain={Y_DOMAIN}
          allowDataOverflow
          ticks={Y_TICKS}
          interval={0}
          width={AX}
          tickSize={0}
          tickMargin={0}
          tickLine={false}
          axisLine={AXIS_LINE}
          tick={(tp: any) => <YTick {...tp} side="left" showLabel={leftLabels} />}
        />
        <YAxis
          yAxisId="r"
          orientation="right"
          type="number"
          scale="log"
          domain={Y_DOMAIN}
          allowDataOverflow
          ticks={Y_TICKS}
          interval={0}
          width={AX}
          tickSize={0}
          tickMargin={0}
          tickLine={false}
          axisLine={AXIS_LINE}
          tick={(tp: any) => <YTick {...tp} side="right" showLabel={false} />}
        />
        <Area
          xAxisId="b"
          yAxisId="l"
          dataKey="band"
          type="monotone"
          fill={`url(#${id})`}
          fillOpacity={1}
          stroke="none"
          isAnimationActive={false}
        />
        <Line
          xAxisId="b"
          yAxisId="l"
          dataKey="hist"
          type="stepAfter"
          stroke="#c6c6c6"
          strokeWidth={2.6}
          strokeDasharray="4.5 3"
          dot={false}
          isAnimationActive={false}
        />
        <Line
          xAxisId="b"
          yAxisId="l"
          dataKey="bg"
          type="monotone"
          stroke="#2a2a2a"
          strokeWidth={0.8}
          strokeDasharray="6 3.5"
          dot={false}
          isAnimationActive={false}
        />
        <Line
          xAxisId="b"
          yAxisId="l"
          dataKey="mid"
          type="monotone"
          stroke={ROW_LINE[p.row]}
          strokeWidth={1.6}
          dot={false}
          isAnimationActive={false}
        />
        <ReferenceLine
          xAxisId="b"
          yAxisId="l"
          x={p.mean}
          stroke="#000"
          strokeWidth={1.3}
          strokeDasharray="1.2 1.6"
        />
      </ComposedChart>
      <div
        style={{
          position: "absolute",
          right: 9,
          top: 4,
          textAlign: "right",
          fontFamily: SERIF,
          fontSize: 8.6,
          lineHeight: "9.5px",
          color: "#222",
          whiteSpace: "nowrap",
        }}
      >
        <div style={{ height: 9.5 }}>
          <i>N</i>
          <Sub>gal</Sub> ={p.nGal}
        </div>
        <div style={{ height: 9.5 }}>
          <i>N</i>
          <Sub>det</Sub> ={p.nDet}
        </div>
      </div>
    </div>
  );
};

const MassLabel = ({ lo, hi }: any) => (
  <span style={{ display: "inline-flex", alignItems: "center", fontFamily: SERIF, fontSize: 12.5, whiteSpace: "nowrap" }}>
    {lo}&nbsp;&lt;&nbsp;log&nbsp;
    <span style={{ display: "inline-flex", flexDirection: "column", alignItems: "center", fontSize: 10, lineHeight: "10px" }}>
      <span style={{ borderBottom: "0.8px solid #000", padding: "0 1px" }}>
        ℳ<Sub>*</Sub>
      </span>
      <span>
        ℳ<Sub>⊙</Sub>
      </span>
    </span>
    &nbsp;&lt;&nbsp;{hi}
  </span>
);

const topRowOf = (c: number) => Math.min(...PANELS.filter((p) => p.col === c).map((p) => p.row));

const LEGEND_TEXT = [
  "Best estimate + 90% confidence interval",
  "X-ray detections only",
  "Linear mean (stack)",
  "Random background (90% upper limit)",
];
const LEGEND_Y = [90, 121, 151, 182];

export default function App() {
  return (
    <div style={{ position: "absolute", left: 0, top: 0, width: 830, height: 913, background: "#fff", overflow: "hidden" }}>
      <style>{`.recharts-surface{overflow:visible}`}</style>
      {PANELS.map((p) => (
        <Panel key={`${p.row}-${p.col}`} p={p} />
      ))}

      {MASS_BINS.map((m, c) => {
        const r = topRowOf(c);
        return (
          <div
            key={`m${c}`}
            style={{
              position: "absolute",
              left: COL_EDGES[c],
              width: COL_EDGES[c + 1] - COL_EDGES[c],
              top: ROW_EDGES[r] - 25,
              height: 24,
              display: "flex",
              alignItems: "center",
              justifyContent: "center",
            }}
          >
            <MassLabel lo={m[0]} hi={m[1]} />
          </div>
        );
      })}

      {Z_BINS.map((z, r) => (
        <div
          key={`z${r}`}
          style={{
            position: "absolute",
            left: 814,
            width: 15,
            top: ROW_EDGES[r] + 2,
            height: ROW_EDGES[r + 1] - ROW_EDGES[r],
            display: "flex",
            alignItems: "center",
            justifyContent: "center",
          }}
        >
          <span
            style={{
              writingMode: "vertical-rl",
              fontFamily: SERIF,
              fontSize: 16,
              lineHeight: "15px",
              color: ROW_TEXT[r],
              whiteSpace: "nowrap",
              letterSpacing: 0.4,
            }}
          >
            {z[0]} &lt; <i>z</i> &lt; {z[1]}
          </span>
        </div>
      ))}

      <svg width={830} height={913} style={{ position: "absolute", left: 0, top: 0, pointerEvents: "none" }}>
        <defs>
          <pattern id="legend-hatch" patternUnits="userSpaceOnUse" width={2.5} height={2.5} patternTransform="rotate(-45)">
            <line x1={0} y1={0} x2={0} y2={2.5} stroke="#2a9069" strokeWidth={1.1} />
          </pattern>
        </defs>
        <rect x={134} y={83} width={33} height={16} fill="url(#legend-hatch)" />
        <line x1={134} y1={91} x2={167} y2={91} stroke="#1b7d5a" strokeWidth={1.5} />
        <line x1={134} y1={121} x2={163} y2={121} stroke="#c6c6c6" strokeWidth={2.4} strokeDasharray="3.5 4" />
        <line x1={150.5} y1={144} x2={150.5} y2={163} stroke="#000" strokeWidth={1.2} strokeDasharray="1.2 1.6" />
        <line x1={134} y1={184} x2={163} y2={184} stroke="#2a2a2a" strokeWidth={0.9} strokeDasharray="6 4" />
        <line x1={118} y1={447} x2={186} y2={447} stroke="#000" strokeWidth={1.5} />
        <polygon points="193,447 184,443.5 184,450.5" fill="#000" />
        <line x1={266} y1={378} x2={266} y2={298} stroke="#000" strokeWidth={1.5} />
        <polygon points="266,290 262.5,299 269.5,299" fill="#000" />
      </svg>

      {LEGEND_TEXT.map((t, i) => (
        <div
          key={`l${i}`}
          style={{
            position: "absolute",
            left: 176,
            top: LEGEND_Y[i] - 7,
            height: 14,
            lineHeight: "14px",
            fontFamily: SANS,
            fontSize: 10.6,
            color: "#111",
            whiteSpace: "nowrap",
          }}
        >
          {t}
        </div>
      ))}

      <div
        style={{
          position: "absolute",
          left: 101,
          top: 416,
          height: 22,
          lineHeight: "22px",
          fontFamily: SERIF,
          fontStyle: "italic",
          fontSize: 17,
          whiteSpace: "nowrap",
        }}
      >
        Increasing ℳ<Sub>*</Sub>
      </div>
      <div
        style={{
          position: "absolute",
          left: 168,
          top: 335,
          width: 140,
          height: 22,
          lineHeight: "22px",
          textAlign: "center",
          fontFamily: SERIF,
          fontStyle: "italic",
          fontSize: 17,
          whiteSpace: "nowrap",
          transform: "rotate(-90deg)",
        }}
      >
        Increasing redshift
      </div>

      <div
        style={{
          position: "absolute",
          left: 15 - 150,
          top: 770 - 11,
          width: 300,
          height: 22,
          lineHeight: "22px",
          textAlign: "center",
          fontFamily: SERIF,
          fontSize: 16.5,
          whiteSpace: "nowrap",
          transform: "rotate(-90deg)",
        }}
      >
        <i>p</i>(log <i>L</i>
        <Sub>X</Sub> | ℳ<Sub>*</Sub>, <i>z</i>) [dex
        <sup style={{ fontSize: "0.65em", lineHeight: 0 }}>−1</sup>]
      </div>
      <div
        style={{
          position: "absolute",
          left: 280,
          top: 891,
          width: 300,
          height: 20,
          lineHeight: "20px",
          textAlign: "center",
          fontFamily: SERIF,
          fontSize: 16,
          whiteSpace: "nowrap",
        }}
      >
        log <i>L</i>
        <Sub>X</Sub> [erg s<sup style={{ fontSize: "0.65em", lineHeight: 0 }}>−1</sup>]
      </div>
    </div>
  );
}
